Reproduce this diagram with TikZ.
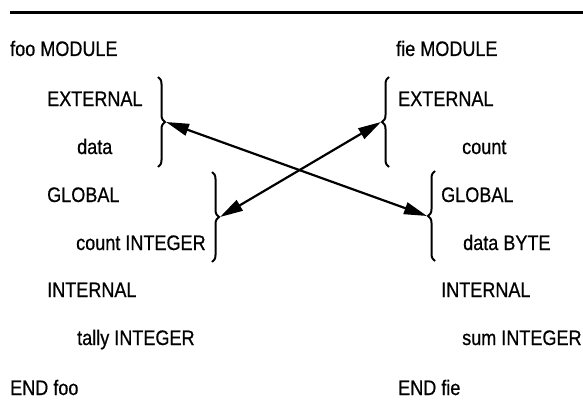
\documentclass[tikz,border=0pt]{standalone}
\usepackage{fontspec}
\setmainfont{Liberation Sans}[FakeStretch=0.86,FakeBold=0.6]
\usetikzlibrary{decorations.pathreplacing,arrows.meta}
\begin{document}
\begin{tikzpicture}[x=1pt,y=-1pt,
  txt/.style={anchor=base west,inner sep=0pt,font=\fontsize{21}{21}\selectfont},
  bracket/.style={decorate,decoration={brace,amplitude=7pt},line width=2pt},
  link/.style={line width=2.2pt,{Triangle[length=23pt,width=12pt]}-{Triangle[length=23pt,width=12pt]}}]
\useasboundingbox (0,0) rectangle (583,412);
\draw[line width=3pt] (10,13) -- (583,13);
% left module
\node[txt] (fooM) at (10,56) {foo MODULE};
\node[txt] (fooE) at (47,106) {EXTERNAL};
\node[txt] (fooD) at (77,154) {data};
\node[txt] (fooG) at (47,202) {GLOBAL};
\node[txt] (fooC) at (76,250) {count INTEGER};
\node[txt] (fooI) at (47,297) {INTERNAL};
\node[txt] (fooT) at (77,345) {tally INTEGER};
\node[txt] (fooEnd) at (10,395) {END foo};
% right module
\node[txt] (fieM) at (396,56) {fie MODULE};
\node[txt] (fieE) at (398,106) {EXTERNAL};
\node[txt] (fieC) at (462,154) {count};
\node[txt] (fieG) at (441,202) {GLOBAL};
\node[txt] (fieD) at (463,250) {data BYTE};
\node[txt] (fieI) at (441,297) {INTERNAL};
\node[txt] (fieS) at (462,345) {sum INTEGER};
\node[txt] (fieEnd) at (398,395) {END fie};
% braces
\draw[bracket] (158,77) -- (158,167);
\draw[bracket] (212,172) -- (212,262);
\draw[bracket] (389,167) -- (389,77);
\draw[bracket] (435,261) -- (435,171);
% brace tips
\coordinate (tFooE) at (166,122);
\coordinate (tFooG) at (220,217);
\coordinate (tFieE) at (381,122);
\coordinate (tFieG) at (427,216);
\draw[link] (tFooE) -- (tFieG);
\draw[link] (tFooG) -- (tFieE);
\end{tikzpicture}
\end{document}
